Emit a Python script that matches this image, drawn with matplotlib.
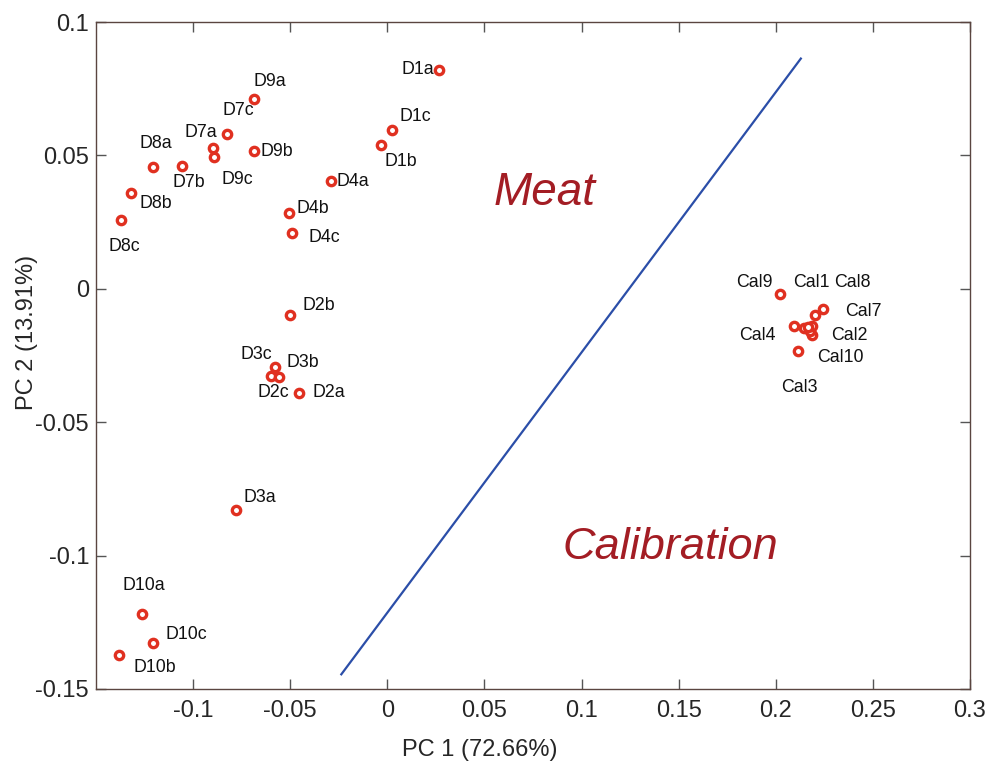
import matplotlib
matplotlib.use("Agg")
import matplotlib.pyplot as plt

plt.rcParams['font.family'] = ['Liberation Sans', 'DejaVu Sans']

# ---- data ----
names = ["D1a", "D1b", "D1c", "D2a", "D2b", "D2c", "D3a", "D3b", "D3c",
         "D4a", "D4b", "D4c", "D7a", "D7b", "D7c", "D8a", "D8b", "D8c",
         "D9a", "D9b", "D9c", "D10a", "D10b", "D10c",
         "Cal1", "Cal2", "Cal3", "Cal4", "Cal5", "Cal6", "Cal7", "Cal8", "Cal9", "Cal10"]
pc1 = [0.0268, -0.0031, 0.0026, -0.0454, -0.0500, -0.0598, -0.0778, -0.0557, -0.0577,
       -0.0289, -0.0505, -0.0490, -0.0897, -0.1057, -0.0825, -0.1206, -0.1320, -0.1370,
       -0.0686, -0.0686, -0.0892, -0.1263, -0.1380, -0.1206,
       0.2201, 0.2186, 0.2113, 0.2093, 0.2144, 0.2175, 0.2186, 0.2242, 0.2021, 0.2165]
pc2 = [0.0822, 0.0540, 0.0597, -0.0390, -0.0098, -0.0326, -0.0829, -0.0330, -0.0293,
       0.0405, 0.0285, 0.0210, 0.0529, 0.0462, 0.0582, 0.0458, 0.0360, 0.0259,
       0.0713, 0.0518, 0.0495, -0.1220, -0.1373, -0.1328,
       -0.0098, -0.0173, -0.0233, -0.0139, -0.0146, -0.0158, -0.0139, -0.0075, -0.0019, -0.0143]
shown = [True] * 28 + [False, False] + [True] * 4  # Cal5, Cal6 have no label

boundary_x = [-0.0237, 0.2129]
boundary_y = [-0.1445, 0.0863]

x_ticks = [-0.1, -0.05, 0, 0.05, 0.1, 0.15, 0.2, 0.25, 0.3]
x_ticklabels = ["-0.1", "-0.05", "0", "0.05", "0.1", "0.15", "0.2", "0.25", "0.3"]
y_ticks = [-0.15, -0.1, -0.05, 0, 0.05, 0.1]
y_ticklabels = ["-0.15", "-0.1", "-0.05", "0", "0.05", "0.1"]

# label offsets in pixels (style/position only)
label_offsets = {
    "D1a": (-22, 0), "D1b": (19, -17), "D1c": (23, 13),
    "D2a": (30, 0), "D2b": (29, 9), "D2c": (2, -17),
    "D3a": (24, 12), "D3b": (24, 14), "D3c": (-19, 12),
    "D4a": (22, -1), "D4b": (24, 4), "D4c": (32, -5),
    "D7a": (-12, 15), "D7b": (7, -17), "D7c": (11, 23),
    "D8a": (3, 23), "D8b": (25, -11), "D8c": (3, -27),
    "D9a": (16, 17), "D9b": (23, -1), "D9c": (23, -23),
    "D10a": (2, 29), "D10b": (35, -12), "D10c": (33, 9),
    "Cal1": (-3, 32), "Cal2": (37, -1), "Cal3": (2, -37), "Cal4": (-36, -10),
    "Cal7": (51, 14), "Cal8": (30, 26), "Cal9": (-25, 11), "Cal10": (33, -31),
}

fig = plt.figure(figsize=(9.91, 7.67), dpi=100)
ax = fig.add_axes([0.0969, 0.1017, 0.8819, 0.8696])

ax.plot(boundary_x, boundary_y, color='#2b4ea8', lw=1.6, zorder=2)
ax.plot(pc1, pc2, ls='none', marker='o', ms=6, mew=2.4,
        mec='#e03020', mfc='white', zorder=3)

for n, x, y, s in zip(names, pc1, pc2, shown):
    if not s:
        continue
    dx, dy = label_offsets[n]
    ax.annotate(n, (x, y), xytext=(dx, dy), textcoords='offset pixels',
                ha='center', va='center', fontsize=12.8, color='#111111', zorder=4)

ax.text(0.081, 0.036, "Meat", fontsize=33, style='italic', color='#a31d24',
        ha='center', va='center')
ax.text(0.1455, -0.0968, "Calibration", fontsize=32.5, style='italic', color='#a31d24',
        ha='center', va='center')

ax.set_xlim(-0.15, 0.3)
ax.set_ylim(-0.15, 0.1)
ax.set_xticks(x_ticks)
ax.set_xticklabels(x_ticklabels)
ax.set_yticks(y_ticks)
ax.set_yticklabels(y_ticklabels)

spine_col = '#5a4540'
for sp in ax.spines.values():
    sp.set_color(spine_col)
    sp.set_linewidth(1.0)
ax.tick_params(direction='in', length=7, width=1.0, color='#555555',
               top=True, right=True, labelsize=17, labelcolor='#262626')
ax.tick_params(axis='x', pad=8)
ax.tick_params(axis='y', pad=5)

ax.set_xlabel("PC 1 (72.66%)", fontsize=17, color='#262626')
ax.set_ylabel("PC 2 (13.91%)", fontsize=17, color='#262626')
ax.xaxis.set_label_coords(0.439, -0.075)
ax.yaxis.set_label_coords(-0.066, 0.534)

fig.savefig("out.png", dpi=100)
